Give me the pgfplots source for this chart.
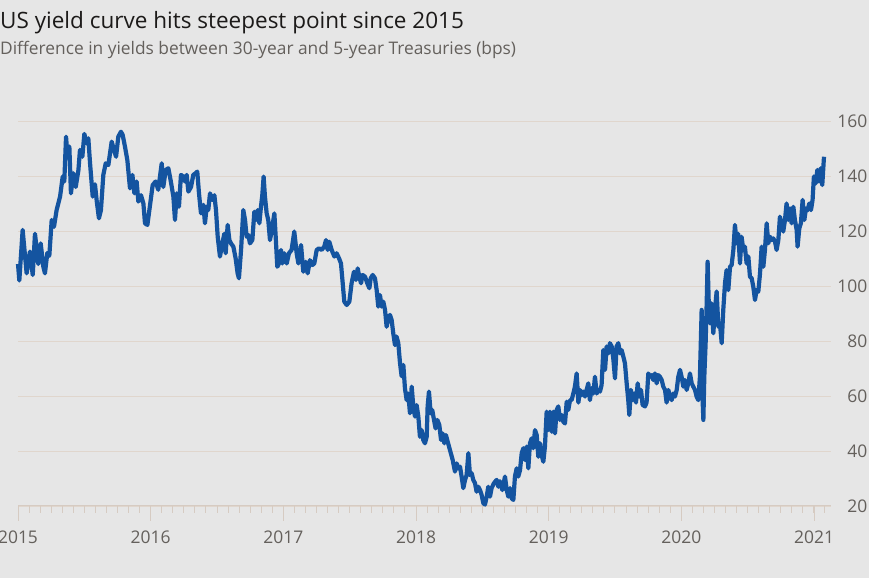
\documentclass[border=0pt]{standalone}
\usepackage{fontspec}
\setmainfont{Open Sans}
\usepackage{pgfplots}
\usepackage{pgfplotstable}
\pgfplotsset{compat=1.18}

\definecolor{bg}{RGB}{230,230,230}
\definecolor{gridc}{RGB}{224,214,205}
\definecolor{axisc}{RGB}{214,203,194}
\definecolor{ftblue}{RGB}{20,84,160}
\definecolor{titlec}{RGB}{28,26,25}
\definecolor{subc}{RGB}{100,96,92}

% 30y minus 5y Treasury yield spread, bps
\pgfplotstableread{
year val
2015.000 108
2015.010 102
2015.035 120.4
2015.065 104.6
2015.090 112.5
2015.111 104
2015.128 119
2015.153 108
2015.171 115.5
2015.191 107
2015.203 104.6
2015.221 112
2015.236 111
2015.254 124
2015.271 121.5
2015.291 127.6
2015.317 132.5
2015.337 139.8
2015.349 138
2015.362 154.3
2015.372 148
2015.387 150.7
2015.399 133.7
2015.417 141
2015.435 136
2015.455 142
2015.467 149.5
2015.485 147
2015.500 155.3
2015.517 151.9
2015.530 153.7
2015.543 144.6
2015.563 132.5
2015.580 137
2015.593 131
2015.610 124.6
2015.625 127.6
2015.643 140.4
2015.661 144.6
2015.681 144
2015.706 152.5
2015.723 149.5
2015.739 147
2015.756 154.3
2015.776 156.1
2015.789 154.9
2015.806 150.7
2015.824 145.8
2015.844 135.5
2015.862 140.4
2015.877 133.7
2015.894 138
2015.907 130.7
2015.927 133
2015.945 130
2015.957 122.8
2015.975 122.2
2015.990 127.6
2016.015 136.7
2016.037 138
2016.057 135
2016.083 144.6
2016.095 136
2016.113 142.2
2016.133 142.8
2016.150 138.5
2016.171 132.5
2016.183 124
2016.196 133.7
2016.213 128.8
2016.228 140.4
2016.246 139.8
2016.258 138
2016.271 140.4
2016.284 134.3
2016.304 136
2016.321 140.4
2016.339 141
2016.351 141.6
2016.364 133.7
2016.379 126.4
2016.397 129.5
2016.409 122.8
2016.422 128.8
2016.434 127.6
2016.447 133.7
2016.464 131.3
2016.480 133
2016.492 127.6
2016.505 117.9
2016.522 110.7
2016.540 115.5
2016.555 119
2016.565 111.9
2016.580 122.2
2016.593 116.7
2016.605 115.5
2016.623 114.3
2016.640 110.1
2016.655 104.6
2016.665 102.8
2016.681 113.1
2016.698 127.6
2016.711 124
2016.723 117.9
2016.736 118.5
2016.748 115.5
2016.766 116.7
2016.781 127
2016.794 124
2016.806 127.6
2016.819 122.8
2016.831 128.8
2016.841 133
2016.851 139.8
2016.861 132.5
2016.874 126.4
2016.886 124
2016.899 116.7
2016.917 121.6
2016.932 126.4
2016.942 117.9
2016.954 107
2016.967 108.2
2016.982 113.1
2016.992 108.2
2017.007 111.9
2017.025 108.2
2017.042 111.9
2017.062 113.1
2017.082 119.8
2017.100 111.9
2017.113 108.2
2017.133 114.9
2017.150 105.2
2017.168 108.8
2017.183 104.6
2017.200 109.4
2017.218 107.6
2017.233 108.2
2017.251 113.1
2017.268 113.7
2017.288 113.1
2017.308 114.3
2017.321 116.7
2017.334 113.1
2017.346 116.1
2017.364 113.1
2017.384 110.7
2017.401 111.9
2017.419 110.1
2017.434 108.2
2017.447 101
2017.459 94.3
2017.477 93.1
2017.497 94.3
2017.514 101
2017.532 105.2
2017.547 102.2
2017.560 106.4
2017.572 103.4
2017.585 101
2017.597 104
2017.615 103.4
2017.632 101
2017.648 99.2
2017.658 102.8
2017.673 104
2017.690 102.8
2017.703 98.5
2017.715 92.5
2017.728 96.7
2017.740 92.5
2017.753 94.3
2017.766 91.3
2017.778 85.2
2017.791 88.2
2017.803 89.5
2017.816 87.6
2017.828 82.8
2017.841 78.5
2017.853 81.6
2017.866 79.2
2017.879 71.9
2017.891 67.2
2017.904 71.3
2017.916 62.8
2017.929 58.5
2017.941 60.9
2017.954 53.7
2017.967 63.4
2017.979 56.2
2017.992 52.5
2018.004 56.7
2018.017 52.5
2018.029 45.2
2018.042 47.6
2018.054 44
2018.067 42.8
2018.080 45.2
2018.087 56.2
2018.097 61.6
2018.110 53.7
2018.122 54.9
2018.135 51.3
2018.147 48.2
2018.160 51.3
2018.175 49.5
2018.188 44
2018.200 46.4
2018.213 42.8
2018.225 45.8
2018.238 43.4
2018.255 40.4
2018.276 36.7
2018.293 32.5
2018.306 35.5
2018.318 33.7
2018.331 34.3
2018.343 30.7
2018.356 26.5
2018.369 29.5
2018.381 31.3
2018.394 39.2
2018.406 31.3
2018.419 31.9
2018.431 29.5
2018.444 28.3
2018.456 25.2
2018.469 27
2018.482 25.8
2018.494 24
2018.507 21
2018.519 20.5
2018.532 23.4
2018.544 27
2018.557 23.4
2018.569 26.5
2018.587 28.3
2018.607 29.5
2018.620 27
2018.632 29
2018.650 25.8
2018.670 30.7
2018.683 25.8
2018.695 23.4
2018.708 26.5
2018.720 22.8
2018.733 22.2
2018.745 30.7
2018.758 33.7
2018.770 30.7
2018.783 33
2018.796 39.2
2018.808 41
2018.821 36.7
2018.833 41.6
2018.846 33.7
2018.858 42.8
2018.871 44.6
2018.883 41
2018.896 47.6
2018.909 45.8
2018.921 37.9
2018.934 42.8
2018.946 38.5
2018.959 36.1
2018.971 41.6
2018.984 54.3
2018.996 47.6
2019.009 54.3
2019.022 47
2019.034 54.3
2019.047 46.4
2019.059 54.9
2019.072 56.2
2019.084 51.3
2019.097 53.1
2019.109 50.7
2019.122 50
2019.135 57.9
2019.147 54.9
2019.160 58.5
2019.172 58.5
2019.185 60.9
2019.197 63.4
2019.210 68.2
2019.223 57.6
2019.235 62.2
2019.248 60.3
2019.260 61.6
2019.273 59.8
2019.285 62.2
2019.298 64.6
2019.310 58.5
2019.323 62.8
2019.336 60.9
2019.348 67
2019.361 60.9
2019.373 62.2
2019.386 61.6
2019.398 64
2019.411 76.7
2019.424 69.5
2019.436 78
2019.449 75.5
2019.461 79.2
2019.474 78
2019.486 73.7
2019.499 66.4
2019.511 78
2019.524 79.2
2019.537 75.5
2019.549 76.7
2019.562 74.3
2019.574 71.9
2019.587 64.6
2019.599 58.5
2019.607 53.1
2019.619 62.2
2019.632 58.5
2019.645 60.9
2019.657 57.6
2019.670 64.6
2019.682 59.8
2019.695 62.2
2019.707 56.8
2019.725 56.2
2019.737 57.6
2019.750 68.2
2019.763 67
2019.775 67.6
2019.788 65.8
2019.800 68.2
2019.813 64.6
2019.825 67.6
2019.838 67
2019.851 65.8
2019.863 63.4
2019.876 62.2
2019.888 57.6
2019.901 62.2
2019.913 60
2019.926 58.5
2019.938 60.9
2019.951 59.8
2019.964 62.2
2019.976 67
2019.989 69.5
2020.001 67
2020.014 63.4
2020.026 65.8
2020.039 62.2
2020.051 64.6
2020.064 68.2
2020.077 64.6
2020.089 63.4
2020.102 62.2
2020.114 59.8
2020.127 58.5
2020.139 67
2020.152 91.3
2020.160 57.6
2020.165 51.3
2020.172 67
2020.182 79.2
2020.190 93.7
2020.197 108.8
2020.207 91.3
2020.215 86.4
2020.227 93.7
2020.240 82.8
2020.252 91.3
2020.265 98
2020.278 85.2
2020.290 86.4
2020.303 79.2
2020.315 91.3
2020.328 101
2020.340 105.8
2020.353 98.5
2020.366 107
2020.378 107.6
2020.391 113.1
2020.403 122.2
2020.416 115.5
2020.428 119
2020.441 108.2
2020.453 117.9
2020.466 113.1
2020.478 114.3
2020.491 108.2
2020.504 110.7
2020.516 103.4
2020.529 102.8
2020.541 99.8
2020.554 94.9
2020.566 98.5
2020.579 97.9
2020.592 104.6
2020.604 114.3
2020.617 107
2020.629 113.1
2020.642 122.8
2020.654 115.5
2020.667 117.9
2020.680 116.7
2020.692 117.3
2020.705 116.1
2020.717 113.1
2020.730 116.7
2020.742 125.2
2020.755 122.2
2020.767 119.8
2020.780 124
2020.792 130
2020.805 124
2020.818 128.2
2020.830 122.8
2020.843 128.8
2020.855 124
2020.868 120.4
2020.875 114.3
2020.888 121
2020.900 122.8
2020.913 131.3
2020.926 124
2020.938 128.2
2020.951 127.6
2020.963 130
2020.976 127.6
2020.988 131.3
2020.998 139.8
2021.011 137.3
2021.024 142.2
2021.036 138
2021.049 142.8
2021.061 136.7
2021.074 147
}\spread

\begin{document}
\begin{tikzpicture}[x=1bp,y=1bp]
\path[use as bounding box, fill=bg] (0,0) rectangle (869,578);

\node[anchor=base west, inner sep=0pt, text=titlec,
      font=\fontsize{22.6}{22.6}\selectfont] at (0,549)
      {US yield curve hits steepest point since 2015};
\node[anchor=base west, inner sep=0pt, text=subc,
      font=\fontsize{17.4}{17.4}\selectfont] at (0,523)
      {Difference in yields between 30-year and 5-year Treasuries (bps)};

\begin{axis}[
    at={(18bp,72bp)}, anchor=south west,
    scale only axis, width=813bp, height=385bp,
    xmin=2015, xmax=2021.127, ymin=20, ymax=160,
    axis x line*=bottom, axis y line*=right,
    y axis line style={draw=none},
    x axis line style={draw=axisc, line width=1bp},
    xtick={2015,...,2021},
    minor xtick={2015,2015.083333,...,2021.1},
    ytick={20,40,...,160},
    ymajorgrids,
    grid style={draw=gridc, line width=0.8bp},
    tick align=outside,
    major tick length=15bp, minor tick length=7bp,
    xtick style={draw=axisc, line width=0.8bp},
    minor tick style={draw=axisc, line width=0.8bp},
    ytick style={draw=none},
    ticklabel style={font=\fontsize{17.5}{17.5}\selectfont, text=subc},
    /pgf/number format/assume math mode=true,
    /pgf/number format/1000 sep={},
    xticklabel style={yshift=-6bp},
    yticklabel style={anchor=east, inner xsep=0pt, xshift=21.5bp},
    clip=false,
]
\addplot[ftblue, line width=4.2bp, line join=round, no marks]
    table[x=year, y=val] {\spread};
\end{axis}
\end{tikzpicture}
\end{document}
